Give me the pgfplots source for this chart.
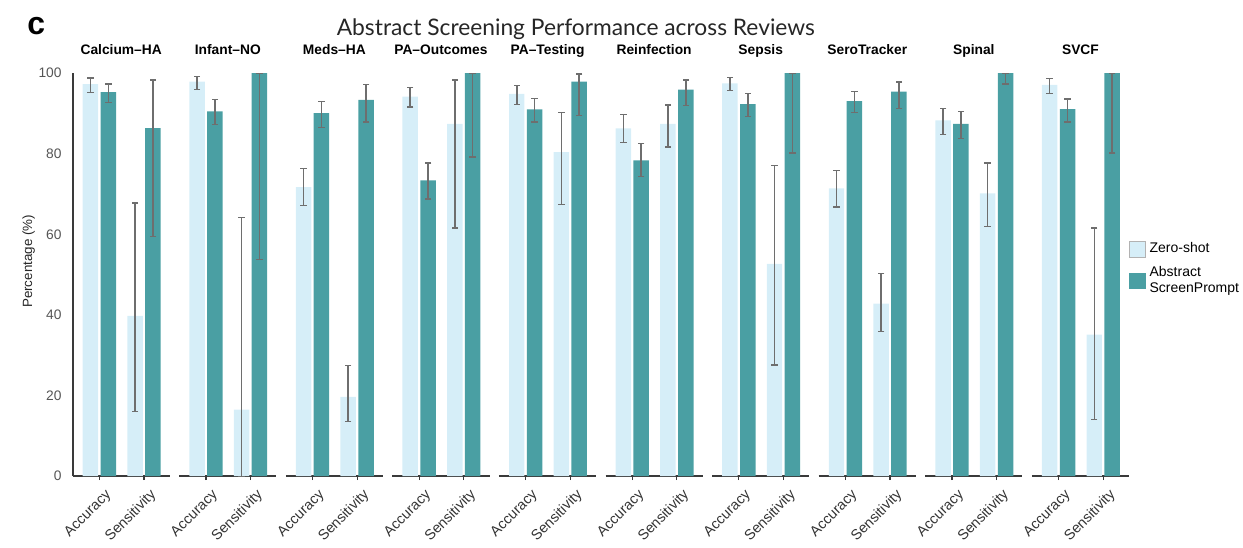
\documentclass[border=0pt]{standalone}
\usepackage{fontspec}
\setmainfont{Liberation Sans}
\newfontfamily\titlefont{Lato}
\usepackage{pgfplots}
\usepackage{pgfplotstable}
\pgfplotsset{compat=1.18}
\definecolor{zsblue}{HTML}{D6EEF8}
\definecolor{spteal}{HTML}{4A9FA3}
\definecolor{errgray}{HTML}{6E6E6E}
\definecolor{axisgray}{HTML}{3A3A3A}
\definecolor{ticktext}{HTML}{555555}

% x: 0 = Accuracy, 1 = Sensitivity; zs = Zero-shot, sp = Abstract ScreenPrompt
\pgfplotstableread{
x zs zslo zshi sp splo sphi
0 97.3 95.3 98.8 95.3 92.8 97.3
1 39.8 16.1 67.8 86.4 59.5 98.3
}\calcium
\pgfplotstableread{
x zs zslo zshi sp splo sphi
0 97.9 95.9 99.2 90.5 87.2 93.4
1 16.5 0.0 64.1 100 53.7 100
}\infant
\pgfplotstableread{
x zs zslo zshi sp splo sphi
0 71.7 67.1 76.3 90.1 86.6 93.0
1 19.7 13.5 27.5 93.4 87.9 97.1
}\meds
\pgfplotstableread{
x zs zslo zshi sp splo sphi
0 94.2 91.6 96.5 73.4 68.8 77.7
1 87.4 61.6 98.3 100 79.2 100
}\paout
\pgfplotstableread{
x zs zslo zshi sp splo sphi
0 94.9 92.3 96.9 91.0 87.9 93.8
1 80.4 67.5 90.3 97.9 89.6 99.8
}\patest
\pgfplotstableread{
x zs zslo zshi sp splo sphi
0 86.3 82.8 89.8 78.4 74.4 82.5
1 87.4 81.7 92.1 95.9 92.0 98.3
}\reinf
\pgfplotstableread{
x zs zslo zshi sp splo sphi
0 97.5 95.7 99.0 92.3 89.2 94.9
1 52.7 27.6 77.0 100 80.2 100
}\sepsis
\pgfplotstableread{
x zs zslo zshi sp splo sphi
0 71.4 66.8 75.9 93.1 90.2 95.4
1 42.8 35.9 50.2 95.4 91.3 97.8
}\sero
\pgfplotstableread{
x zs zslo zshi sp splo sphi
0 88.3 84.7 91.3 87.4 83.7 90.5
1 70.2 62.0 77.7 100 97.3 100
}\spinal
\pgfplotstableread{
x zs zslo zshi sp splo sphi
0 97.1 95.0 98.6 91.1 87.9 93.6
1 35.1 14.1 61.6 100 80.2 100
}\svcf

\pgfplotsset{
  panel/.style={
    scale only axis, width=48.65pt, height=201.7pt,
    xmin=-0.6, xmax=1.58, ymin=0, ymax=100,
    axis x line=bottom, axis y line=left,
    axis line style={axisgray, line width=1pt, -},
    xtick={0,1}, xticklabels={Accuracy,Sensitivity},
    x tick label style={rotate=45, anchor=north east, inner sep=1.5pt,
      xshift=0.6pt, yshift=-3pt,
      font=\fontsize{7.2}{8}\selectfont, text=black!80},
    x tick style={axisgray, line width=0.6pt},
    tick align=outside, major tick length=2pt,
    clip=false,
    title style={at={(0.5,1)}, anchor=base, yshift=3.6pt,
      font=\bfseries\fontsize{6.9}{8}\selectfont},
    legend image code/.code={\draw[##1] (0pt,-3.8pt) rectangle (7.8pt,3.8pt);},
  },
  nolefty/.style={y axis line style={draw=none}, ytick=\empty},
  zsbar/.style={ybar, bar width=7.75pt, bar shift=-4.475pt, fill=zsblue, draw=none, forget plot},
  spbar/.style={ybar, bar width=7.75pt, bar shift=4.475pt, fill=spteal, draw=none, forget plot},
}

% error bar of one series: #1 table, #2 series (zs/sp), #3 x offset in axis units
\newcommand{\errbar}[3]{%
\addplot[draw=none, mark=none, forget plot,
  error bars/.cd, y dir=both, y explicit, error mark=none,
  error bar style={draw=errgray, line width=0.75pt}]
  table[x expr=\thisrow{x}+#3, y=#2,
  y error plus expr=\thisrow{#2hi}-\thisrow{#2},
  y error minus expr=\thisrow{#2}-\thisrow{#2lo}] {#1};
\addplot[only marks, mark=-, mark size=1.6pt, errgray, forget plot,
  mark options={line width=0.6pt}] table[x expr=\thisrow{x}+#3, y=#2hi] {#1};
\addplot[only marks, mark=-, mark size=1.6pt, errgray, forget plot,
  mark options={line width=0.6pt}] table[x expr=\thisrow{x}+#3, y=#2lo] {#1};
}

\newcommand{\panelplots}[1]{%
\addplot[zsbar] table[x=x, y=zs] {#1};
\addplot[spbar] table[x=x, y=sp] {#1};
\errbar{#1}{zs}{-0.2005}
\errbar{#1}{sp}{0.2005}
}

\newcommand{\panel}[4]{%
\begin{axis}[panel, at={(#1,33.65pt)}, title={#3}, #4]
\panelplots{#2}
\end{axis}}

\begin{document}
\begin{tikzpicture}
\path (0,0) rectangle (621.5pt,272pt);
\node[anchor=base west, inner sep=0pt, font=\bfseries\fontsize{16}{18}\selectfont] at (13.5pt,254.5pt) {c};
\node[anchor=base, inner sep=0pt, font=\titlefont\fontsize{11.4}{13}\selectfont, text=black!85] at (288.25pt,254.2pt) {Abstract Screening Performance across Reviews};

\begin{axis}[panel, name=first, at={(36.35pt,33.65pt)}, title={Calcium–HA},
  ytick={0,20,...,100}, y tick style={draw=none},
  /pgf/number format/assume math mode=true,
  y tick label style={font=\fontsize{6.9}{8}\selectfont, text=ticktext},
  ylabel={Percentage (\%)},
  ylabel style={font=\fontsize{6.7}{8}\selectfont, text=black!85,
    at={(ticklabel cs:0.533,-5pt)}}]
\panelplots{\calcium}
\end{axis}
\panel{89.70pt}{\infant}{Infant–NO}{nolefty}
\panel{143.05pt}{\meds}{Meds–HA}{nolefty}
\panel{196.40pt}{\paout}{PA–Outcomes}{nolefty}
\panel{249.75pt}{\patest}{PA–Testing}{nolefty}
\panel{303.10pt}{\reinf}{Reinfection}{nolefty}
\panel{356.45pt}{\sepsis}{Sepsis}{nolefty}
\panel{409.80pt}{\sero}{SeroTracker}{nolefty}
\panel{463.15pt}{\spinal}{Spinal}{nolefty}

\begin{axis}[panel, nolefty, at={(516.50pt,33.65pt)}, title={SVCF},
  legend style={at={(1.0,0.59)}, anchor=north west, draw=none, fill=none,
    font=\fontsize{7}{8}\selectfont, cells={align=left}, row sep=1pt,
    inner sep=0pt},
  legend cell align=left]
\addlegendimage{fill=zsblue, draw=black!30, line width=0.3pt}
\addlegendentry{Zero-shot}
\addlegendimage{fill=spteal, draw=spteal, line width=0.3pt}
\addlegendentry{Abstract\\ScreenPrompt}
\panelplots{\svcf}
\end{axis}
% left axis line of the first panel, drawn last
\draw[axisgray, line width=1.1pt] (first.south west) -- (first.north west);
\end{tikzpicture}
\end{document}
